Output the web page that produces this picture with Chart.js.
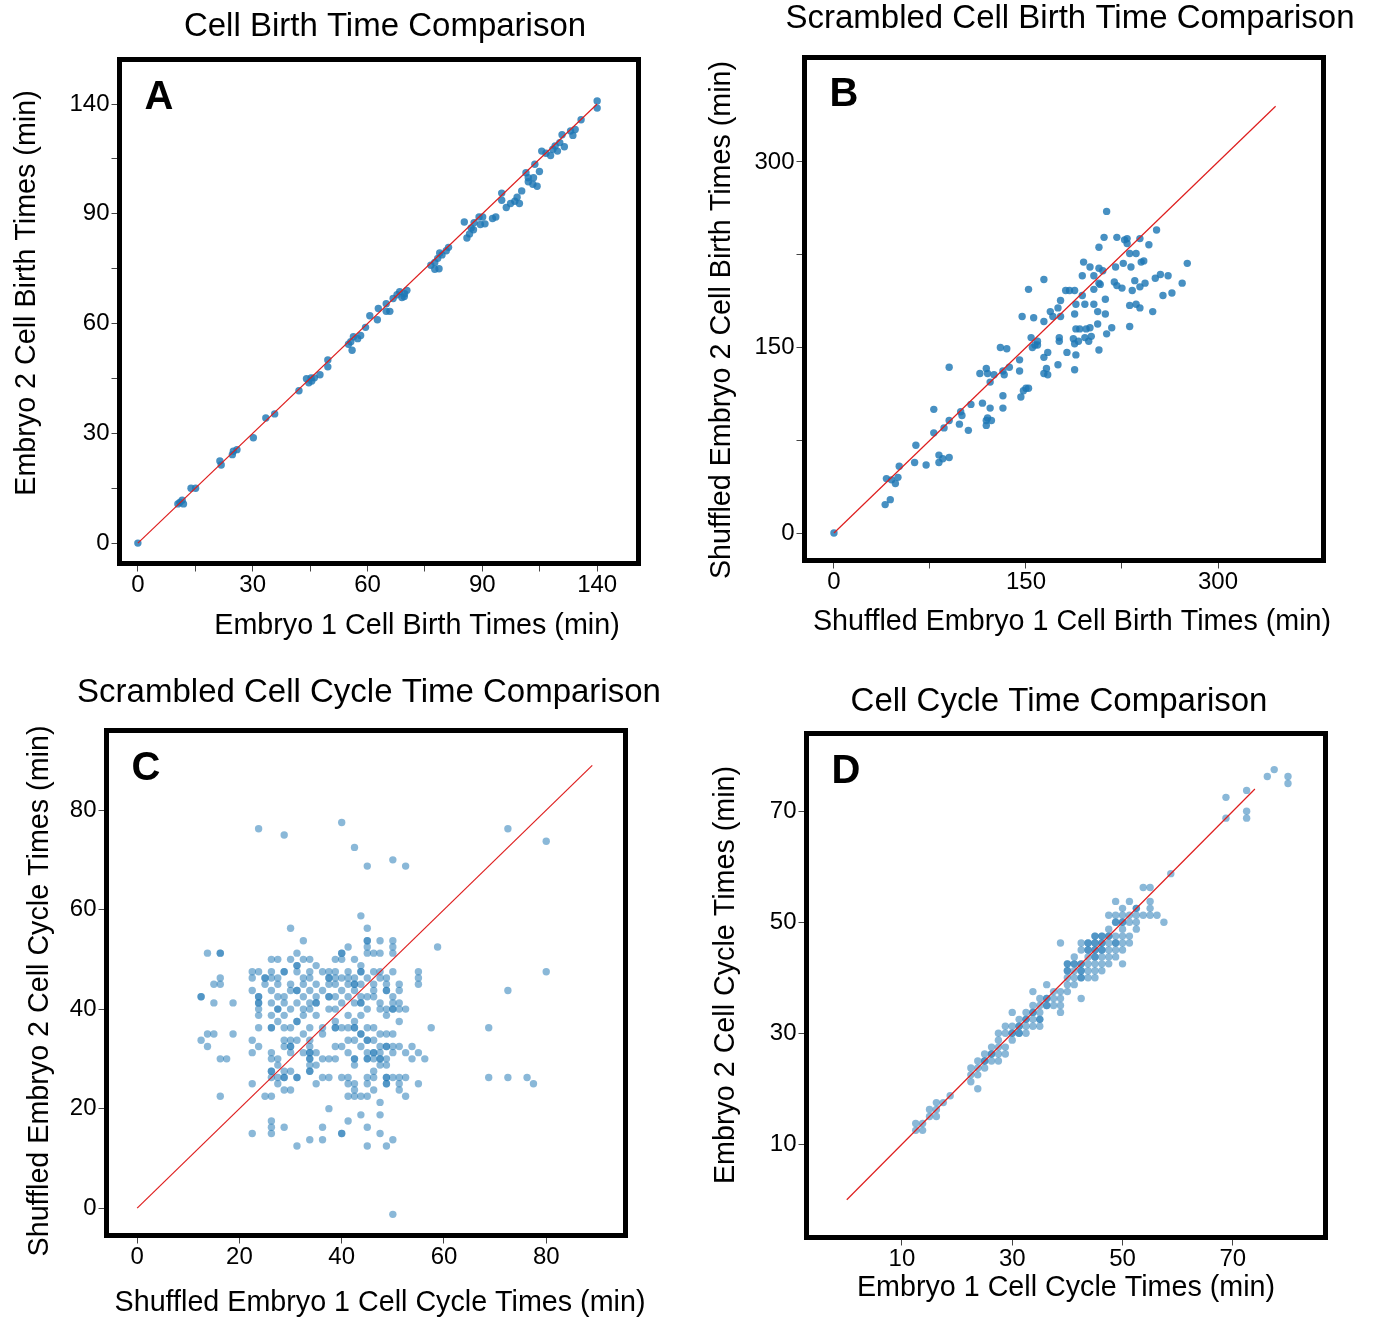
<!DOCTYPE html>
<html>
<head>
<meta charset="utf-8">
<script src="https://cdn.jsdelivr.net/npm/chart.js@4.4.1/dist/chart.umd.min.js"></script>
<style>
  html, body { margin: 0; padding: 0; background: #fff; }
  body { width: 1374px; height: 1319px; position: relative; overflow: hidden; }
  canvas { position: absolute; }
</style>
</head>
<body>
<canvas id="chartA" width="687" height="660" style="left:0;top:0"></canvas>
<canvas id="chartB" width="687" height="660" style="left:687px;top:0"></canvas>
<canvas id="chartC" width="687" height="659" style="left:0;top:660px"></canvas>
<canvas id="chartD" width="687" height="659" style="left:687px;top:660px"></canvas>
<script>
// ---- Panel A: cell birth times, embryo 1 vs embryo 2 ----
const A_X = [0,12.2,13.5,13.9,12.8,16.2,17.6,25.0,25.4,28.8,29.1,30.2,35.2,39.0,41.7,49.1,51.4,52.8,52.1,53.8,53.0,55.5,57.9,57.9,64.2,64.9,65.7,65.3,67.0,67.9,69.4,70.7,73.0,73.3,75.7,76.8,75.7,77.8,79.0,80.5,81.3,79.8,82.0,81.2,89.3,90.5,91.4,92.0,92.7,94.0,94.7,90.5,91.8,99.5,100.3,101.1,102.3,102.5,101.6,104.0,105.1,105.8,104.4,108.1,109.1,110.9,110.9,112.3,113.6,114.9,116.3,115.6,117.0,118.3,119.0,120.6,121.7,122.4,121.0,120.4,119.0,123.1,124.4,125.8,126.5,127.2,127.9,128.6,130.0,129.3,131.9,132.6,133.3,135.1,140.0,140.0];
const A_Y = [0,12.5,13.7,12.5,13.0,17.5,17.5,26.2,24.9,28.2,29.3,29.8,33.6,39.9,41.2,48.6,52.4,52.7,51.1,52.7,51.7,53.7,58.4,56.2,63.4,64.2,65.8,61.5,65.2,66.2,68.8,72.5,71.2,74.8,76.3,73.9,73.9,78.0,79.2,78.3,79.5,80.2,80.6,78.6,88.6,89.5,90.8,92.5,91.9,93.2,94.3,87.3,87.5,102.4,97.3,98.6,99.9,102.2,100.5,104.0,104.0,101.8,101.6,103.5,104.0,111.6,109.3,107.0,108.3,109.0,108.3,110.3,112.3,118.1,115.2,116.5,113.8,118.5,120.8,114.4,116.5,125.0,124.3,123.6,125.6,126.6,125.0,127.7,126.4,130.2,131.4,130.0,131.9,135.0,141.0,138.7];
const A_LINE = [0, 140];
const A_TICKS = [0, 17.5, 35, 52.5, 70, 87.5, 105, 122.5, 140];
const A_TICK_LABELS = ['0', '', '30', '', '60', '', '90', '', '140'];

// ---- Panel B: shuffled birth times ----
const B_X = [0,40,44,41,45,48,50,51,63,64,72,78,78,82,82,85,86,90,90,90,98,100,99,105,107,114,116,119,120,122,122,119,119,120,123,125,130,135,132,133,132,132,137,145,145,146,148,150,152,147,152,156,154,155,157,159,159,164,164,164,166,167,164,167,169,171,175,176,176,175,177,177,181,184,188,182,187,188,188,189,189,188,189,192,191,194,195,194,196,196,197,199,200,200,201,203,203,203,207,207,207,206,206,207,208,210,211,212,212,213,213,217,219,220,221,221,225,226,227,229,231,236,232,231,231,233,235,239,240,242,239,239,243,246,249,252,251,255,257,261,264,272,276,229,236];
const B_Y = [0,23,27,44,43,40,45,54,57,71,55,81,100,63,57,60,85,91,61,134,88,95,98,83,104,129,105,133,129,122,101,87,91,93,91,128,150,149,131,128,111,101,134,131,140,110,115,117,117,175,197,174,158,150,152,152,155,171,142,129,133,128,205,146,179,175,182,158,155,136,175,188,196,196,196,146,157,153,132,144,185,177,165,165,155,208,219,192,185,158,165,155,166,215,159,185,197,208,231,214,202,179,169,148,201,212,239,177,189,260,161,166,203,215,239,200,198,218,237,238,226,226,215,184,167,196,204,238,219,220,199,182,202,233,179,245,206,209,192,208,194,202,218,234,185];
const B_LINE = [0, 345];
const B_TICKS = [0, 75, 150, 225, 300];
const B_TICK_LABELS = ['0', '', '150', '', '300'];

// ---- Panel C: shuffled cell cycle times (rows of equal y) ----
const C_ROW_Y = [77.5,76.25,75,73.75,72.5,70,68.75,58.75,56.25,53.75,52.5,51.25,50,48.75,47.5,46.25,45,43.75,42.5,41.25,40,38.75,37.5,36.25,35,33.75,32.5,31.25,30,28.75,27.5,26.25,25,23.75,22.5,21.25,20,18.75,17.5,16.25,15,13.75,12.5,-1.25];
const C_ROW_X = [
  [40],
  [23.75, 72.5],
  [28.75],
  [80],
  [42.5],
  [50],
  [45, 52.5],
  [43.75],
  [30, 45],
  [32.5, 45, 45, 47.5, 50],
  [41.25, 45, 50, 58.75],
  [13.75, 16.25, 16.25, 31.25, 40, 40, 45, 46.25, 47.5, 50],
  [26.25, 27.5, 30, 32.5, 33.75, 38.75, 40, 42.5],
  [31.25, 31.25, 35, 43.75],
  [22.5, 23.75, 26.25, 28.75, 28.75, 31.25, 33.75, 36.25, 37.5, 38.75, 41.25, 43.75, 43.75, 46.25, 47.5, 50, 55, 80],
  [16.25, 22.5, 25, 25, 26.25, 27.5, 32.5, 33.75, 37.5, 37.5, 38.75, 40, 41.25, 42.5, 45, 47.5, 48.75, 55],
  [15, 16.25, 25, 27.5, 30, 32.5, 35, 37.5, 38.75, 41.25, 42.5, 42.5, 43.75, 46.25, 48.75, 51.25, 55],
  [22.5, 26.25, 30, 31.25, 31.25, 33.75, 36.25, 40, 42.5, 46.25, 48.75, 48.75, 51.25, 72.5],
  [12.5, 12.5, 23.75, 23.75, 27.5, 28.75, 32.5, 35, 37.5, 37.5, 38.75, 41.25, 43.75, 45, 46.25, 50],
  [15, 18.75, 23.75, 23.75, 26.25, 28.75, 31.25, 33.75, 35, 35, 40, 42.5, 43.75, 43.75, 47.5, 50, 51.25],
  [23.75, 27.5, 27.5, 30, 32.5, 33.75, 37.5, 38.75, 45, 47.5, 48.75, 50, 50, 51.25, 52.5],
  [23.75, 26.25, 28.75, 32.5, 35, 41.25, 43.75, 48.75],
  [27.5, 31.25, 31.25, 38.75, 42.5, 51.25],
  [23.75, 26.25, 26.25, 28.75, 30, 33.75, 36.25, 38.75, 38.75, 40, 41.25, 42.5, 42.5, 45, 46.25, 57.5, 68.75],
  [13.75, 15, 18.75, 32.5, 36.25, 43.75, 43.75, 47.5, 48.75, 50],
  [12.5, 22.5, 28.75, 30, 31.25, 33.75, 41.25, 42.5, 45, 45, 46.25],
  [13.75, 23.75, 28.75, 30, 30, 33.75, 38.75, 40, 43.75, 47.5, 48.75, 48.75, 50, 51.25, 53.75],
  [22.5, 26.25, 30, 32.5, 33.75, 33.75, 35, 41.25, 45, 46.25, 46.25, 47.5, 50, 52.5, 55],
  [16.25, 17.5, 26.25, 27.5, 33.75, 33.75, 36.25, 37.5, 38.75, 42.5, 42.5, 45, 45, 46.25, 47.5, 47.5, 48.75, 53.75, 56.25],
  [27.5, 33.75, 35, 42.5, 47.5, 48.75],
  [26.25, 26.25, 28.75, 30, 33.75, 33.75, 46.25],
  [26.25, 27.5, 28.75, 28.75, 31.25, 31.25, 36.25, 37.5, 40, 41.25, 45, 46.25, 48.75, 48.75, 50, 51.25, 52.5, 68.75, 72.5, 76.25],
  [22.5, 27.5, 35, 41.25, 42.5, 45, 48.75, 48.75, 51.25, 55, 77.5],
  [28.75, 30, 42.5, 46.25, 51.25],
  [16.25, 25, 26.25, 41.25, 42.5, 43.75, 45, 52.5],
  [47.5],
  [37.5],
  [43.75, 47.5],
  [26.25, 41.25],
  [26.25, 28.75, 36.25, 45],
  [22.5, 26.25, 40, 40, 47.5],
  [33.75, 36.25, 50],
  [31.25, 45, 48.75],
  [50]
];
const C_LINE = [0, 89];
const C_TICKS = [0, 20, 40, 60, 80];
const C_TICK_LABELS = ['0', '20', '40', '60', '80'];

// ---- Panel D: cell cycle times (rows of equal y) ----
const D_ROW_Y = [77.5,76.25,75,73.75,72.5,70,68.75,58.75,56.25,53.75,52.5,51.25,50,48.75,47.5,46.25,45,43.75,42.5,41.25,40,38.75,37.5,36.25,35,33.75,32.5,31.25,30,28.75,27.5,26.25,25,23.75,22.5,21.25,20,18.75,17.5,16.25,15,13.75,12.5];
const D_ROW_X = [
  [77.5],
  [76.25, 80],
  [80],
  [72.5],
  [68.75],
  [72.5],
  [68.75, 72.5],
  [58.75],
  [53.75, 55],
  [48.75, 51.25, 55],
  [50, 52.5, 52.5, 55],
  [47.5, 48.75, 50, 51.25, 52.5, 53.75, 55, 56.25],
  [48.75, 48.75, 50, 50, 51.25, 52.5, 57.5],
  [47.5, 50, 52.5],
  [45, 45, 46.25, 46.25, 47.5, 47.5, 48.75, 50, 51.25],
  [38.75, 42.5, 43.75, 43.75, 45, 45, 46.25, 46.25, 47.5, 48.75, 48.75, 50, 51.25],
  [42.5, 43.75, 43.75, 45, 45, 46.25, 46.25, 47.5, 48.75, 50],
  [41.25, 43.75, 45, 45, 46.25, 47.5, 48.75],
  [40, 40, 41.25, 41.25, 42.5, 42.5, 43.75, 45, 46.25, 47.5, 50],
  [40, 40, 41.25, 42.5, 42.5, 43.75, 45, 46.25],
  [40, 41.25, 42.5, 42.5, 43.75, 45],
  [36.25, 40, 41.25],
  [33.75, 37.5, 38.75, 40],
  [35, 36.25, 36.25, 37.5, 38.75, 42.5],
  [33.75, 35, 36.25, 36.25, 37.5, 38.75],
  [30, 32.5, 33.75, 33.75, 35, 38.75],
  [31.25, 32.5, 32.5, 33.75, 35, 35],
  [28.75, 30, 31.25, 31.25, 32.5, 33.75, 35],
  [27.5, 28.75, 30, 30, 31.25, 31.25, 32.5],
  [27.5, 30],
  [26.25, 27.5, 28.75],
  [25, 26.25, 26.25, 27.5, 28.75],
  [23.75, 25, 25, 26.25, 27.5],
  [22.5, 23.75, 25],
  [22.5, 23.75],
  [22.5],
  [23.75],
  [18.75],
  [16.25, 17.5],
  [15, 16.25],
  [15, 16.25],
  [12.5, 13.75],
  [12.5, 13.75]
];
const D_LINE = [0, 74];
const D_TICKS = [10, 30, 50, 70];
const D_TICK_LABELS = ['10', '30', '50', '70'];

const FONT = '"Liberation Sans", Arial, Helvetica, sans-serif';

// thick black box round the plot area
const framePlugin = {
  id: 'frame',
  afterDatasetsDraw(chart) {
    const { ctx, chartArea: a } = chart;
    ctx.save();
    ctx.lineWidth = 5;
    ctx.strokeStyle = '#000';
    ctx.strokeRect(a.left, a.top, a.right - a.left, a.bottom - a.top);
    ctx.restore();
  }
};

// panel title, axis titles and the bold panel letter
const textPlugin = {
  id: 'panelText',
  afterDraw(chart, args, o) {
    const ctx = chart.ctx;
    ctx.save();
    ctx.fillStyle = '#000';
    ctx.textAlign = 'center';
    ctx.textBaseline = 'middle';
    ctx.font = '33px ' + FONT;
    ctx.fillText(o.title, o.titleAt[0], o.titleAt[1]);
    ctx.font = '28.7px ' + FONT;
    ctx.fillText(o.xTitle, o.xTitleAt[0], o.xTitleAt[1]);
    ctx.save();
    ctx.translate(o.yTitleAt[0], o.yTitleAt[1]);
    ctx.rotate(-Math.PI / 2);
    ctx.fillText(o.yTitle, 0, 0);
    ctx.restore();
    ctx.font = 'bold 40px ' + FONT;
    ctx.fillText(o.letter, o.letterAt[0], o.letterAt[1]);
    ctx.restore();
  }
};

function rowsToPoints(rowY, rowX) {
  const pts = [];
  rowY.forEach((y, i) => rowX[i].forEach(x => pts.push({ x, y })));
  return pts;
}

function axis(min, max, ticks, labels, side) {
  return {
    type: 'linear',
    min, max,
    afterBuildTicks: s => { s.ticks = ticks.map(v => ({ value: v })); },
    afterFit: s => { if (side === 'x') s.height = 60; else s.width = 60; },
    grid: { drawOnChartArea: false, drawTicks: true, tickLength: 8, color: '#444', lineWidth: 1 },
    border: { display: false },
    ticks: {
      autoSkip: false, maxRotation: 0, padding: 2, color: '#000',
      font: { family: FONT, size: 24, lineHeight: 1 },
      callback: (v, i) => labels[i]
    }
  };
}

// box: canvas left/top/width/height on the page; area: plot frame on the page
function panel(id, box, area, points, line, color, xr, yr, xt, yt, text) {
  const [L, T, W, H] = box;
  const [aL, aT, aR, aB] = area;
  const rel = p => [p[0] - L, p[1] - T];
  new Chart(document.getElementById(id), {
    type: 'scatter',
    data: {
      datasets: [
        {
          type: 'line',
          data: line.map(v => ({ x: v, y: v })),
          borderColor: 'rgb(222,30,30)',
          borderWidth: 1.2,
          pointRadius: 0,
          fill: false,
          tension: 0
        },
        {
          data: points,
          backgroundColor: color,
          borderWidth: 0,
          pointRadius: 3.7,
          pointHoverRadius: 3.7
        }
      ]
    },
    options: {
      responsive: false,
      animation: false,
      events: [],
      layout: {
        padding: { left: aL - L - 60, top: aT - T, right: L + W - aR, bottom: T + H - aB - 60 }
      },
      plugins: {
        legend: { display: false },
        tooltip: { enabled: false },
        panelText: {
          title: text.title, titleAt: rel(text.titleAt),
          xTitle: text.xTitle, xTitleAt: rel(text.xTitleAt),
          yTitle: text.yTitle, yTitleAt: rel(text.yTitleAt),
          letter: text.letter, letterAt: rel(text.letterAt)
        }
      },
      scales: {
        x: axis(xr[0], xr[1], xt[0], xt[1], 'x'),
        y: axis(yr[0], yr[1], yt[0], yt[1], 'y')
      }
    },
    plugins: [framePlugin, textPlugin]
  });
}

const DARK = 'rgba(31,119,180,0.82)';
const LIGHT = 'rgba(31,119,180,0.52)';

panel('chartA', [0, 0, 687, 660], [119.5, 59.5, 638.5, 563.5],
  A_X.map((x, i) => ({ x, y: A_Y[i] })), A_LINE, DARK,
  [-5.6, 152.6], [-6.5, 154.2],
  [A_TICKS, A_TICK_LABELS], [A_TICKS, A_TICK_LABELS],
  { title: 'Cell Birth Time Comparison', titleAt: [385, 27],
    xTitle: 'Embryo 1 Cell Birth Times (min)', xTitleAt: [417, 626],
    yTitle: 'Embryo 2 Cell Birth Times (min)', yTitleAt: [27, 293],
    letter: 'A', letterAt: [159, 98] });

panel('chartB', [687, 0, 687, 660], [804.5, 57.5, 1323.5, 560.5],
  B_X.map((x, i) => ({ x, y: B_Y[i] })), B_LINE, DARK,
  [-23, 382.4], [-22.2, 384.4],
  [B_TICKS, B_TICK_LABELS], [B_TICKS, B_TICK_LABELS],
  { title: 'Scrambled Cell Birth Time Comparison', titleAt: [1070, 19],
    xTitle: 'Shuffled Embryo 1 Cell Birth Times (min)', xTitleAt: [1072, 622],
    yTitle: 'Shuffled Embryo 2 Cell Birth Times (min)', yTitleAt: [722, 320],
    letter: 'B', letterAt: [844, 95] });

panel('chartC', [0, 660, 687, 659], [106.5, 730.5, 625.5, 1235.5],
  rowsToPoints(C_ROW_Y, C_ROW_X), C_LINE, LIGHT,
  [-6.0, 95.5], [-5.5, 96.0],
  [C_TICKS, C_TICK_LABELS], [C_TICKS, C_TICK_LABELS],
  { title: 'Scrambled Cell Cycle Time Comparison', titleAt: [369, 693],
    xTitle: 'Shuffled Embryo 1 Cell Cycle Times (min)', xTitleAt: [380, 1303],
    yTitle: 'Shuffled Embryo 2 Cell Cycle Times (min)', yTitleAt: [40, 991],
    letter: 'C', letterAt: [146, 769] });

panel('chartD', [687, 660, 687, 659], [806.5, 733.5, 1325.5, 1237.5],
  rowsToPoints(D_ROW_Y, D_ROW_X), D_LINE, LIGHT,
  [-7.3, 86.8], [-6.8, 84.0],
  [D_TICKS, D_TICK_LABELS], [D_TICKS, D_TICK_LABELS],
  { title: 'Cell Cycle Time Comparison', titleAt: [1059, 702],
    xTitle: 'Embryo 1 Cell Cycle Times (min)', xTitleAt: [1066, 1288],
    yTitle: 'Embryo 2 Cell Cycle Times (min)', yTitleAt: [726, 975],
    letter: 'D', letterAt: [846, 772] });
</script>
</body>
</html>
